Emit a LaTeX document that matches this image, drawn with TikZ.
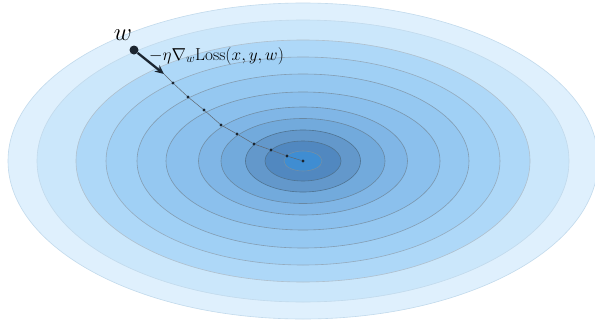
\documentclass[tikz,border=0pt]{standalone}
\usepackage{amsmath,amssymb}
\usepackage{tikz}
\usetikzlibrary{arrows.meta,positioning}
\definecolor{ringA}{HTML}{DFF0FD}
\definecolor{ringB}{HTML}{CBE7FB}
\definecolor{ringC}{HTML}{AED8F8}
\definecolor{ringD}{HTML}{A0D0F5}
\definecolor{ringE}{HTML}{95C8F1}
\definecolor{ringF}{HTML}{8BC0ED}
\definecolor{ringG}{HTML}{80B6E6}
\definecolor{ringH}{HTML}{72AADC}
\definecolor{ringI}{HTML}{6398CB}
\definecolor{ringJ}{HTML}{5188C0}
\definecolor{ringK}{HTML}{3F8DD2}
\definecolor{rimfaint}{HTML}{C2DAEC}
\definecolor{rimdark}{HTML}{4F7391}
\definecolor{stepink}{HTML}{1B2530}
\tikzset{
  ring/.style={line width=0.6pt},
  dot/.style={circle, fill=stepink, inner sep=0pt, minimum size=3.2pt},
  bigdot/.style={circle, fill=stepink, inner sep=0pt, minimum size=9pt},
  trail/.style={line width=0.5pt, draw=stepink!70},
  gradarr/.style={-{Stealth[length=9pt,width=8pt]}, line width=2.3pt, draw=stepink}
}
\begin{document}
\begin{tikzpicture}[x=1pt,y=-1pt]
  \fill[white] (0,0) rectangle (595,327);
  \useasboundingbox (0,0) rectangle (595,327);
  % level sets of the loss
  \foreach \rx/\ry/\col/\rim in {295/158/ringA/rimfaint, 266/141/ringB/rimfaint,
      227/121/ringC/rimdark!45, 197/104/ringD/rimdark!60, 166/87/ringE/rimdark!70,
      137/69/ringF/rimdark!75, 104.5/54/ringG/rimdark!80, 82/42.5/ringH/rimdark!85,
      57.5/31/ringI/rimdark, 38/20/ringJ/rimdark, 19/10/ringK/rimdark!80} {
    \draw[ring, fill=\col, draw=\rim] (303,161) ellipse [x radius=\rx, y radius=\ry];
  }
  % descent steps
  \node[bigdot] (w0) at (134,50) {};
  \node[font=\fontsize{26}{28}\selectfont, inner sep=0pt] (wlab) at (123,35) {$w$};
  \coordinate (tip) at (164,74);
  \foreach \i/\px/\py in {1/173/83, 2/188/97, 3/204/110, 4/221/125, 5/237/134,
      6/254/144, 7/271/150, 8/287/156, 9/303/161} {
    \node[dot] (s\i) at (\px,\py) {};
  }
  \draw[trail] (tip) -- (s1) -- (s2) -- (s3) -- (s4) -- (s5) -- (s6) -- (s7) -- (s8) -- (s9);
  \draw[gradarr] (w0) -- (tip);
  \node[font=\fontsize{16.5}{18}\selectfont, anchor=base west, inner sep=0pt] (glab) at (149,60)
    {$-\eta\nabla_w\mathrm{Loss}(x,y,w)$};
\end{tikzpicture}
\end{document}
